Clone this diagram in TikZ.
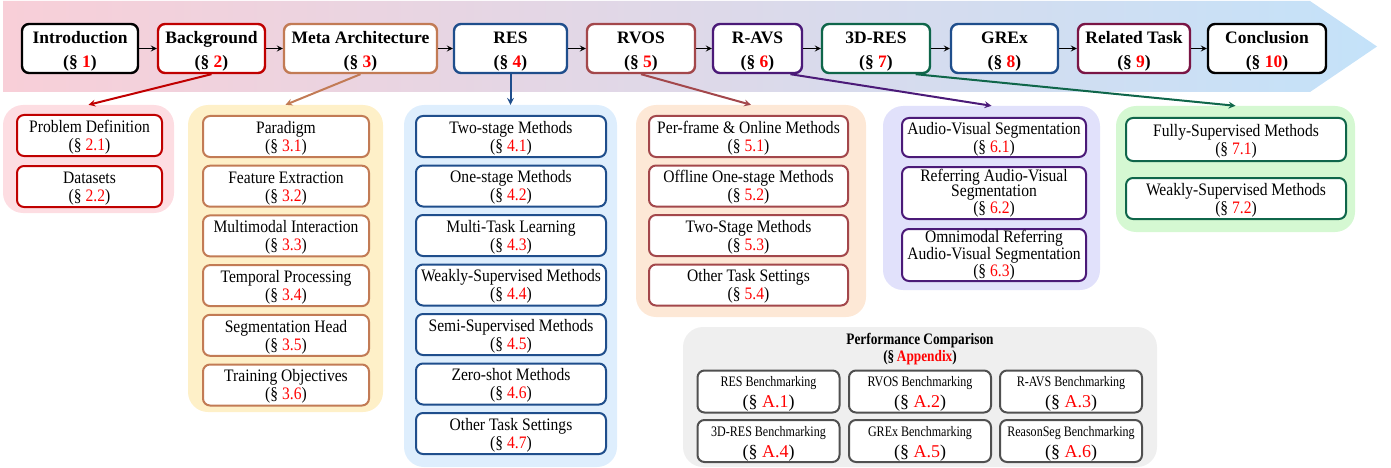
\documentclass[tikz,border=0pt]{standalone}
\usepackage{fontspec}
\setmainfont{Liberation Serif}
\newfontfamily\subfont{Liberation Serif}[FakeStretch=0.89]
\newfontfamily\perffont{Liberation Serif}[FakeStretch=0.83]
\usetikzlibrary{arrows}

\definecolor{cRed}{HTML}{C00000}
\definecolor{cTan}{HTML}{C27B55}
\definecolor{cBlue}{HTML}{1F4E8C}
\definecolor{cRose}{HTML}{A3474B}
\definecolor{cPurple}{HTML}{4B1A78}
\definecolor{cGreen}{HTML}{0F664A}
\definecolor{cMaroon}{HTML}{7A1545}
\definecolor{cGray}{HTML}{505050}
\definecolor{fPink}{HTML}{FDDDE2}
\definecolor{fYellow}{HTML}{FEF0C8}
\definecolor{fBlue}{HTML}{DEEEFD}
\definecolor{fPeach}{HTML}{FDE8D6}
\definecolor{fLav}{HTML}{E1E1FB}
\definecolor{fGreen}{HTML}{D5F8D2}
\definecolor{fGray}{HTML}{EFEFEF}
\definecolor{bannerL}{HTML}{F8CFD8}
\definecolor{bannerR}{HTML}{C4E2F9}

\newcommand{\secref}[1]{(§\ {\color{red}#1})}
\newcommand{\topstrut}{\rule{0pt}{18pt}}
\newcommand{\substrut}{\rule{0pt}{15.5pt}}

\begin{document}
\begin{tikzpicture}
	[x=1pt,y=-1pt,
	topbox/.style={draw=#1, line width=2.4pt, rounded corners=7pt, fill=white, align=center, inner sep=0pt, minimum height=49pt, font=\fontsize{17.5}{23.5}\selectfont\bfseries},
	subbox/.style={draw=#1, line width=2pt, rounded corners=7pt, fill=white, align=center, inner sep=0pt, font=\subfont\fontsize{17.5}{18}\selectfont},
	panel/.style={fill=#1, rounded corners=20pt, inner sep=0pt},
	nextarrow/.style={->, >=stealth, line width=1.6pt},
	sublink/.style={draw=#1, ->, >=stealth, line width=2pt}]
	\useasboundingbox (0,0) rectangle (1391,468);
	\shade[left color=bannerL, right color=bannerR] (3,1) -- (1310,1) -- (1377,46.5) -- (1310,92) -- (3,92) -- cycle;

	% group panels
	\node[panel=fPink, minimum width=171pt, minimum height=108pt] (g2) at (88.5,159) {};
	\node[panel=fYellow, minimum width=195pt, minimum height=307pt] (g3) at (285.5,258.5) {};
	\node[panel=fBlue, minimum width=213pt, minimum height=362pt] (g4) at (510.5,286) {};
	\node[panel=fPeach, minimum width=230pt, minimum height=212pt] (g5) at (751,211) {};
	\node[panel=fLav, minimum width=217pt, minimum height=184pt] (g6) at (991.5,198) {};
	\node[panel=fGreen, minimum width=239pt, minimum height=126pt] (g7) at (1235.5,169) {};
	\node[panel=fGray, minimum width=474pt, minimum height=140pt] (perf) at (920,397) {};

	% main sections
	\node[topbox=black, minimum width=116pt] (intro) at (80,48.5) {\topstrut Introduction\\\secref{1}};
	\node[topbox=cRed, minimum width=107pt] (bg) at (211.5,48.5) {\topstrut Background\\\secref{2}};
	\node[topbox=cTan, minimum width=153pt] (meta) at (360.5,48.5) {\topstrut Meta Architecture\\\secref{3}};
	\node[topbox=cBlue, minimum width=113pt] (res) at (510.5,48.5) {\topstrut RES\\\secref{4}};
	\node[topbox=cRose, minimum width=108pt] (rvos) at (641,48.5) {\topstrut RVOS\\\secref{5}};
	\node[topbox=cPurple, minimum width=89pt] (ravs) at (757.5,48.5) {\topstrut R-AVS\\\secref{6}};
	\node[topbox=cGreen, minimum width=108pt] (tdres) at (876,48.5) {\topstrut 3D-RES\\\secref{7}};
	\node[topbox=cBlue, minimum width=107pt] (grex) at (1004.5,48.5) {\topstrut GREx\\\secref{8}};
	\node[topbox=cMaroon, minimum width=112pt] (rel) at (1134,48.5) {\topstrut Related Task\\\secref{9}};
	\node[topbox=black, minimum width=118pt] (concl) at (1267,48.5) {\topstrut Conclusion\\\secref{10}};

	\foreach \from/\to in {intro/bg,bg/meta,meta/res,res/rvos,rvos/ravs,ravs/tdres,tdres/grex,grex/rel,rel/concl}
	\draw[nextarrow] (\from) -- (\to);

	% subsections
	\foreach \n/\txt in {1/Problem Definition, 2/Datasets}
	\node[subbox=cRed, minimum width=145pt, minimum height=41pt] (s2\n) at (89.5,{135.5+51*(\n-1)}) {\substrut\txt\\\secref{2.\n}};
	\foreach \n/\txt in {1/Paradigm, 2/Feature Extraction, 3/Multimodal Interaction, 4/Temporal Processing, 5/Segmentation Head, 6/Training Objectives}
	\node[subbox=cTan, minimum width=166pt, minimum height=41pt] (s3\n) at (286,{136.5+49.7*(\n-1)}) {\substrut\txt\\\secref{3.\n}};
	\foreach \n/\txt in {1/Two-stage Methods, 2/One-stage Methods, 3/Multi-Task Learning, 4/Weakly-Supervised Methods, 5/Semi-Supervised Methods, 6/Zero-shot Methods, 7/Other Task Settings}
	\node[subbox=cBlue, minimum width=190pt, minimum height=41pt] (s4\n) at (511,{136.5+49.5*(\n-1)}) {\substrut\txt\\\secref{4.\n}};
	\foreach \n/\txt in {1/Per-frame \& Online Methods, 2/Offline One-stage Methods, 3/Two-Stage Methods, 4/Other Task Settings}
	\node[subbox=cRose, minimum width=199pt, minimum height=41pt] (s5\n) at (748.5,{136.5+49.5*(\n-1)}) {\substrut\txt\\\secref{5.\n}};
	\node[subbox=cPurple, minimum width=184pt, minimum height=39pt] (s61) at (994,137.5) {\substrut Audio-Visual Segmentation\\\secref{6.1}};
	\node[subbox=cPurple, minimum width=184pt, minimum height=52pt, font=\subfont\fontsize{17.5}{15.5}\selectfont] (s62) at (994,193) {Referring Audio-Visual\\Segmentation\\\secref{6.2}};
	\node[subbox=cPurple, minimum width=184pt, minimum height=52pt, font=\subfont\fontsize{17.5}{15.5}\selectfont] (s63) at (994,255) {Omnimodal Referring\\Audio-Visual Segmentation\\\secref{6.3}};
	\node[subbox=cGreen, minimum width=220pt, minimum height=43pt] (s71) at (1236,139.5) {\substrut Fully-Supervised Methods\\\secref{7.1}};
	\node[subbox=cGreen, minimum width=220pt, minimum height=41pt] (s72) at (1236,198.5) {\substrut Weakly-Supervised Methods\\\secref{7.2}};

	% appendix
	\node[font=\perffont\bfseries\fontsize{16}{17}\selectfont, align=center] (ptitle) at (920,349) {Performance Comparison\\(§\,{\color{red}Appendix})};
	\foreach \n/\x/\y/\txt in {1/768.5/391.5/RES, 2/920/391.5/RVOS, 3/1071/391.5/R-AVS, 4/768.5/441/3D-RES, 5/920/441/GREx, 6/1071/441/ReasonSeg}
	\node[subbox=cGray, font=\rmfamily\fontsize{18}{21}\selectfont, minimum width=142pt, minimum height=42pt] (a\n) at (\x,\y) {\substrut{\perffont\fontsize{14.5}{21}\selectfont \txt\ Benchmarking}\\\secref{A.\n}};

	\draw[sublink=cRed] (bg.south) -- (g2.north);
	\draw[sublink=cTan] (meta.south) -- (g3.north);
	\draw[sublink=cBlue] (res.south) -- (g4.north);
	\draw[sublink=cRose] (rvos.south) -- (g5.north);
	\draw[sublink=cPurple] (ravs.-38) -- (g6.north);
	\draw[sublink=cGreen] (tdres.-33) -- (g7.north);
\end{tikzpicture}
\end{document}
